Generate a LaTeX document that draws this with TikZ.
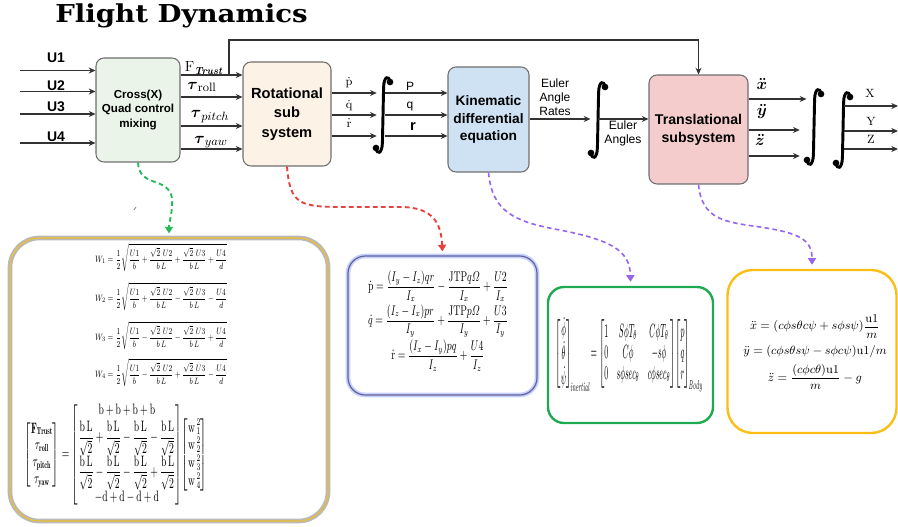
\documentclass[tikz,border=0pt]{standalone}
\usepackage{amsmath,amssymb}
\usepackage{graphicx}
\usepackage{fontspec}
\newfontfamily\arial{Liberation Sans}
\newfontfamily\titlefont{DejaVu Serif}
\usetikzlibrary{arrows.meta}
\definecolor{crossfill}{RGB}{234,244,232}
\definecolor{rotfill}{RGB}{253,242,230}
\definecolor{kinfill}{RGB}{207,226,243}
\definecolor{transfill}{RGB}{244,204,204}
\definecolor{boxline}{RGB}{110,110,110}
\definecolor{dgreen}{RGB}{40,185,90}
\definecolor{dred}{RGB}{232,65,60}
\definecolor{dpurple}{RGB}{150,100,240}
\definecolor{gold1}{RGB}{240,190,40}
\definecolor{gold2}{RGB}{250,190,20}
\definecolor{kgreen}{RGB}{30,170,80}
\definecolor{bluish}{RGB}{195,210,255}
\definecolor{purplegray}{RGB}{105,95,150}
\definecolor{lnk}{RGB}{50,50,50}
\newcommand\bLr{\dfrac{\mathrm{b\,L}}{\sqrt{2}}}
\newcommand\rtU[1]{\dfrac{\sqrt{2}\,\,U#1}{b\,L}}
\newcommand\Weq[4]{$W_{#1}=\dfrac{1}{2}\sqrtsign{\dfrac{U1}{b}#2\rtU{2}#3\rtU{3}#4\dfrac{U4}{d}}$}
\newcommand\eqMix{$\begin{bmatrix}\mathbf{F}_{\mathbf{Trust}}\\ \tau_{\mathbf{roll}}\\ \tau_{\mathbf{pitch}}\\ \tau_{\mathbf{yaw}}\end{bmatrix}
=\begin{bmatrix}\mathrm{b}+\mathrm{b}+\mathrm{b}+\mathrm{b}\\[1pt]
\bLr+\bLr-\bLr-\bLr\\[2pt]
\bLr-\bLr-\bLr+\bLr\\
-\mathrm{d}+\mathrm{d}-\mathrm{d}+\mathrm{d}\end{bmatrix}
\!\begin{bmatrix}\mathrm{w}\,{}^{2}_{1}\\ \mathrm{w}\,{}^{2}_{2}\\ \mathrm{w}\,{}^{2}_{3}\\ \mathrm{w}\,{}^{2}_{4}\end{bmatrix}$}
\newcommand\eqRot{$\begin{gathered}
\dot{\mathrm{p}}=\dfrac{(I_y-I_z)qr}{I_x}-\dfrac{\mathrm{JTP}q\varOmega}{I_x}+\dfrac{U2}{I_x}\\[-2pt]
\dot{q}=\dfrac{(I_z-I_x)pr}{I_y}+\dfrac{\mathrm{JTP}p\varOmega}{I_y}+\dfrac{U3}{I_y}\\[-2pt]
\dot{\mathrm{r}}=\dfrac{(I_x-I_y)pq}{I_z}+\dfrac{U4}{I_z}
\end{gathered}$}
\newcommand\eqKin{$\begin{bmatrix}\dot\phi\\ \dot\theta\\ \dot\psi\end{bmatrix}_{\!\mathit{inertial}}
\!=\begin{bmatrix}1 & S\phi T_\theta & C\phi T_\theta\\ 0 & C\phi & -s\phi\\ 0 & s\phi sec_\theta & c\phi sec_\theta\end{bmatrix}
\!\begin{bmatrix}p\\ q\\ r\end{bmatrix}_{\!\mathit{Body}}$}
\newcommand\eqTr{$\begin{gathered}
\ddot{x}=(c\phi s\theta c\psi+s\phi s\psi)\dfrac{\mathrm{u}1}{m}\\[1pt]
\ddot{y}=(c\phi s\theta s\psi-s\phi c\psi)\mathrm{u}1/m\\[1pt]
\ddot{z}=\dfrac{(c\phi c\theta)\mathrm{u}1}{m}-g
\end{gathered}$}
\tikzset{
  blk/.style={draw=boxline, line width=0.8pt, rounded corners=6pt, align=center,
     font=\arial\bfseries, inner sep=0pt},
  arr/.style={-{Stealth[length=5pt,width=4.5pt]}, draw=lnk, line width=0.8pt},
  ulab/.style={font=\arial\bfseries\fontsize{10.5}{12}\selectfont, inner sep=0pt},
  intg/.style={inner sep=0pt, minimum width=9pt, minimum height=56pt},
  integ/.pic={
    \draw[line width=2.2pt, line cap=round] (7,-33) .. controls (6,-40) and (1,-39) .. (0.6,-28)
       -- (-0.6,28) .. controls (-1,39) and (-6,40) .. (-7,33);
    \fill (7,-33) circle (2.5pt);
    \fill (-7,33) circle (2.5pt);
  },
  dsh/.style={dash pattern=on 3.5pt off 2.5pt, line width=1.4pt,
     -{Triangle[length=5pt,width=6pt]}},
  eqbox/.style={rounded corners=#1, inner sep=0pt},
  weq/.style={inner sep=0pt, font=\fontsize{8}{9}\selectfont},
}
\begin{document}
\begin{tikzpicture}[x=0.75pt,y=-0.75pt]
\useasboundingbox (0,0) rectangle (898,527);

% title
\node[font=\titlefont\bfseries\fontsize{18.5}{20}\selectfont, inner sep=0pt, anchor=base] (title) at (181.5,23) {\scalebox{1.12}[1]{Flight Dynamics}};

% main blocks
\node[blk, fill=crossfill, minimum width=63pt, minimum height=78pt,
  font=\arial\bfseries\fontsize{8.7}{11}\selectfont] (cross) at (138,110) {Cross(X)\\Quad control\\mixing};
\node[blk, fill=rotfill, minimum width=66pt, minimum height=78pt,
  font=\arial\bfseries\fontsize{11}{14.5}\selectfont] (rot) at (287,114) {Rotational\\sub\\system};
\node[blk, fill=kinfill, minimum width=60.75pt, minimum height=78.75pt,
  font=\arial\bfseries\fontsize{10.3}{13.2}\selectfont] (kin) at (488.5,119.5) {Kinematic\\differential\\equation};
\node[blk, fill=transfill, minimum width=74.25pt, minimum height=81.75pt,
  font=\arial\bfseries\fontsize{10.6}{13.5}\selectfont] (trans) at (698.5,129.5) {Translational\\subsystem};

% integrals
\node[intg] (int1) at (383,115) {};
\node[intg] (int2) at (598,120) {};
\node[intg] (int3) at (814,127) {};
\node[intg] (int4) at (843,130) {};
\foreach \i in {int1,int2,int3,int4}{\pic at (\i) {integ};}

% input arrows
\coordinate (u1) at (20,70.5);
\coordinate (u2) at (20,91.5);
\coordinate (u3) at (20,114);
\coordinate (u4) at (20,143);
\foreach \u in {u1,u2,u3,u4}{\draw[arr] (\u) -- (\u -| cross.west);}
\node[ulab] (lu1) at (56,58) {U1};
\node[ulab] (lu2) at (56,86) {U2};
\node[ulab] (lu3) at (56,107) {U3};
\node[ulab] (lu4) at (56,137) {U4};

% cross -> rotational
\coordinate (c1) at (0,75);
\coordinate (c2) at (0,97);
\coordinate (c3) at (0,126);
\coordinate (c4) at (0,149);
\foreach \c in {c1,c2,c3,c4}{\draw[arr] (cross.east |- \c) -- (rot.west |- \c);}
\node[inner sep=0pt] (lF) at (204,68) {\fontsize{11}{12}\selectfont$\mathrm{F}_{\textbf{\textit{Trust}}}$};
\node[inner sep=0pt] (lr) at (202,87) {\fontsize{13}{14}\selectfont$\boldsymbol{\tau}_{\mathrm{roll}}$};
\node[inner sep=0pt] (lp) at (210,117) {\fontsize{13}{14}\selectfont$\boldsymbol{\tau}_{pitch}$};
\node[inner sep=0pt] (ly) at (211,142) {\fontsize{13}{14}\selectfont$\boldsymbol{\tau}_{yaw}$};

% thrust feed to translational
\coordinate (fb) at (229,75);
\draw[arr] (fb) -- ++(0,-35) -| (trans.north);

% rotational -> integral -> kinematic
\coordinate (r1) at (0,93);
\coordinate (r2) at (0,115);
\coordinate (r3) at (0,136);
\foreach \r in {r1,r2,r3}{
  \draw[arr] (rot.east |- \r) -- (int1.west |- \r);
  \draw[arr] ([xshift=1.5pt]int1.center |- \r) -- (kin.west |- \r);}
\node[inner sep=0pt, font=\fontsize{9}{10}\selectfont] (ldp) at (349,83) {$\dot{\mathrm{p}}$};
\node[inner sep=0pt, font=\fontsize{9}{10}\selectfont] (ldq) at (349,106) {$\dot{\mathrm{q}}$};
\node[inner sep=0pt, font=\fontsize{9}{10}\selectfont] (ldr) at (349,123) {$\dot{\mathrm{r}}$};
\node[inner sep=0pt, font=\arial\fontsize{9}{10}\selectfont] (lP) at (410,86) {P};
\node[inner sep=0pt, font=\arial\fontsize{9}{10}\selectfont] (lq) at (410,107) {q};
\node[inner sep=0pt, font=\arial\bfseries\fontsize{11}{12}\selectfont] (lrr) at (413,127) {r};

% kinematic -> integral -> translational
\coordinate (k1) at (0,119);
\draw[arr] (kin.east |- k1) -- ([xshift=-1pt]int2.west |- k1);
\draw[arr] (int2.center |- k1) -- (trans.west |- k1);
\node[inner sep=0pt, align=center, font=\arial\fontsize{9}{10.5}\selectfont] (lrates) at (555,97) {Euler\\Angle\\Rates};
\node[inner sep=0pt, align=center, font=\arial\fontsize{9.1}{10.5}\selectfont] (langles) at (623,133) {Euler\\Angles};

% translational -> integrals -> outputs
\coordinate (t1) at (0,99);
\coordinate (t2) at (0,130);
\coordinate (t3) at (0,156);
\draw[arr] (trans.east |- t1) -- ([xshift=-1pt]int3.west |- t1);
\draw[arr] (trans.east |- t2) -- ([xshift=-6pt]int3.west |- t2);
\draw[arr] (trans.east |- t3) -- ([xshift=-6pt]int3.west |- t3);
\node[inner sep=0pt, font=\fontsize{12}{13}\selectfont] (lxdd) at (762,84) {$\boldsymbol{\ddot{x}}$};
\node[inner sep=0pt, font=\fontsize{12}{13}\selectfont] (lydd) at (762,112) {$\boldsymbol{\ddot{y}}$};
\node[inner sep=0pt, font=\fontsize{12}{13}\selectfont] (lzdd) at (760,140) {$\boldsymbol{\ddot{z}}$};
\coordinate (o1) at (898,106);
\coordinate (o2) at (898,131);
\coordinate (o3) at (898,149);
\foreach \o in {o1,o2,o3}{\draw[arr] ([xshift=1pt]int4.center |- \o) -- (\o);}
\node[inner sep=0pt, font=\fontsize{9}{10}\selectfont] (lX) at (870,93) {X};
\node[inner sep=0pt, font=\fontsize{9}{10}\selectfont] (lY) at (871,121) {Y};
\node[inner sep=0pt, font=\fontsize{9}{10}\selectfont] (lZ) at (871,139) {Z};

% equation boxes
\node[eqbox=22pt, minimum width=238.5pt, minimum height=212.25pt,
  preaction={draw=gray!55, line width=3.5pt}, draw=gold1, line width=0.8pt] (eqA) at (169,379.5) {};
\node[eqbox=13pt, minimum width=141.75pt, minimum height=104.25pt,
  preaction={draw=bluish, line width=3.5pt}, draw=purplegray, line width=0.9pt] (eqB) at (442.5,325.5) {};
\node[eqbox=12pt, minimum width=123.75pt, minimum height=102pt,
  draw=kgreen, line width=1.8pt] (eqC) at (630.5,355) {};
\node[eqbox=19pt, minimum width=126.75pt, minimum height=122.25pt,
  draw=gold2, line width=1.8pt] (eqD) at (812,351.5) {};

% box B, C, D contents
\node[inner sep=0pt, font=\fontsize{9}{10}\selectfont] (rotEq) at (438,321) {\resizebox*{105pt}{75pt}{\eqRot}};
\node[inner sep=0pt, font=\fontsize{9}{10}\selectfont] (kinEq) at (629,355) {\resizebox*{110pt}{56pt}{\eqKin}};
\node[inner sep=0pt, font=\fontsize{9}{10}\selectfont] (trEq) at (815,352) {\eqTr};

% box A contents
\node[inner sep=0pt, font=\fontsize{9}{10}\selectfont] (mix) at (116,455) {\resizebox*{137pt}{78pt}{\eqMix}};
\node[weq] (wa) at (161,258) {\resizebox*{99pt}{21pt}{\Weq{1}{+}{+}{+}}};
\node[weq] (wb) at (161,297) {\resizebox*{99pt}{21pt}{\Weq{2}{+}{-}{-}}};
\node[weq] (wc) at (161,336) {\resizebox*{99pt}{21pt}{\Weq{3}{-}{-}{+}}};
\node[weq] (wd) at (161,373) {\resizebox*{99pt}{21pt}{\Weq{4}{-}{+}{-}}};

% dashed connectors
\draw[dsh, draw=dgreen] (cross.south) .. controls (139,188) and (168,176) .. (172,198)
   .. controls (173,212) and (169,222) .. ([yshift=3pt]eqA.north);
\draw[dsh, draw=dred] (rot.south) .. controls (290,205) and (300,207) .. (345,207)
   -- (400,207) .. controls (435,207) and (441,225) .. ([yshift=3pt]eqB.north);
\draw[dsh, line width=1.2pt, draw=dpurple] (kin.south) .. controls (492,212) and (515,222) .. (560,230)
   .. controls (610,240) and (630,250) .. ([yshift=3pt]eqC.north);
\draw[dsh, line width=1.2pt, draw=dpurple] (trans.south) .. controls (702,220) and (725,222) .. (760,227)
   .. controls (800,233) and (812,240) .. ([yshift=3pt]eqD.north);

% small speck
\draw[gray, line width=0.6pt] (134,210) -- (136,207);
\end{tikzpicture}
\end{document}
